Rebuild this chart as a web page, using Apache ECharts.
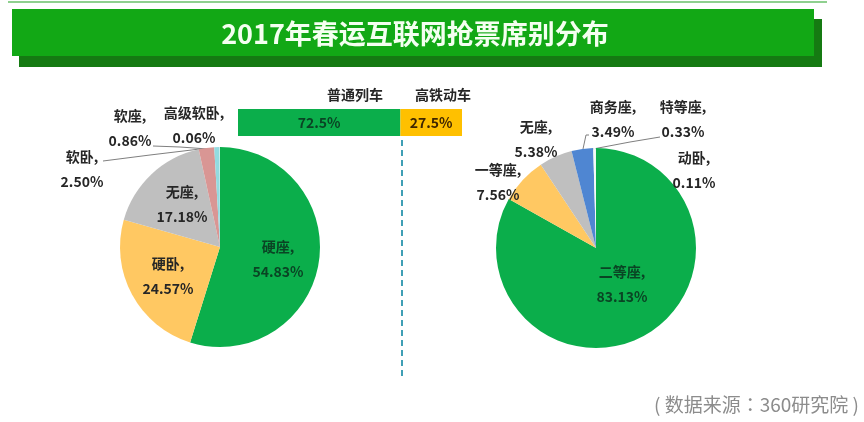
<!DOCTYPE html>
<html>
<head>
<meta charset="utf-8">
<style>
html, body { margin: 0; padding: 0; background: #fff; }
#main { width: 864px; height: 422px; }
</style>
<script src="https://cdn.jsdelivr.net/npm/echarts@6/dist/echarts.min.js"></script>
</head>
<body>
<div id="main"></div>
<script>
var titleText = '2017年春运互联网抢票席别分布';
var sourceText = '( 数据来源：360研究院 )';

// 左饼：普通列车
var leftNames = ['硬座', '硬卧', '无座', '软卧', '软座', '高级软卧'];
var leftValues = [54.83, 24.57, 17.18, 2.50, 0.86, 0.06];
// 右饼：高铁动车
var rightNames = ['二等座', '一等座', '无座', '商务座', '特等座', '动卧'];
var rightValues = [83.13, 7.56, 5.38, 3.49, 0.33, 0.11];
// 顶部条形
var barNames = ['普通列车', '高铁动车'];
var barValues = [72.5, 27.5];

var font = '"Noto Sans CJK SC", sans-serif';
var leftColors = ['#0bae4b', '#ffc862', '#bfbfbf', '#d99694', '#93dbe0', '#dff4f2'];
var rightColors = ['#0bae4b', '#ffc862', '#bfbfbf', '#4f86d2', '#f4fbf6', '#e6f6ee'];

// 标签中心的像素坐标
var leftLabelPos = {
    '硬座': [278, 259], '硬卧': [168, 276], '无座': [182, 204],
    '软卧': [82, 169], '软座': [130, 128], '高级软卧': [194, 125]
};
var rightLabelPos = {
    '二等座': [622, 284], '一等座': [498, 182], '无座': [536, 139],
    '商务座': [613, 119], '特等座': [683, 119], '动卧': [694, 170]
};
// 引导线的折点
var leaderPoints = {
    '软卧': [[103, 161], [150, 155], [200, 149]],
    '软座': [[153, 146], [180, 147], [208, 149]],
    '商务座': [[589, 135], [586, 135], [583, 149]],
    '特等座': [[660, 137], [630, 142], [593, 149]]
};

function pieData(names, values, colors) {
    return names.map(function (n, i) {
        return {
            name: n,
            value: values[i],
            itemStyle: { color: colors[i] },
            label: { color: colors[i] === '#0bae4b' ? '#0a4424' : '#262626' },
            labelLine: { show: !!leaderPoints[n] }
        };
    });
}

function pieSeries(names, values, colors, center, pos) {
    return {
        type: 'pie',
        center: center,
        radius: [0, 100],
        startAngle: 90,
        clockwise: true,
        avoidLabelOverlap: false,
        silent: true,
        animation: false,
        data: pieData(names, values, colors),
        label: {
            show: true,
            position: 'outside',
            formatter: function (p) { return p.name + ',\n' + p.value.toFixed(2) + '%'; },
            fontFamily: font,
            fontSize: 14,
            fontWeight: 'bold',
            lineHeight: 25
        },
        labelLine: {
            show: false,
            lineStyle: { color: '#7f7f7f', width: 1 }
        },
        labelLayout: function (p) {
            var key = p.text.split(',')[0];
            var xy = pos[key];
            var layout = { x: xy[0], y: xy[1], align: 'center', verticalAlign: 'middle' };
            if (leaderPoints[key]) {
                layout.labelLinePoints = leaderPoints[key];
            }
            return layout;
        }
    };
}

var myChart = echarts.init(document.getElementById('main'));

var option = {
    backgroundColor: '#fff',
    animation: false,
    grid: { left: 238, top: 109, width: 224, height: 27 },
    xAxis: { type: 'value', min: 0, max: 100, show: false },
    yAxis: { type: 'category', data: ['占比'], show: false },
    series: [
        {
            name: barNames[0], type: 'bar', stack: 'a', barWidth: 27, silent: true,
            data: [barValues[0]], itemStyle: { color: '#0bae4b' },
            label: { show: true, position: 'inside', formatter: '{c}%', fontFamily: font, fontSize: 14, fontWeight: 'bold', color: '#0a4424' }
        },
        {
            name: barNames[1], type: 'bar', stack: 'a', barWidth: 27, silent: true,
            data: [barValues[1]], itemStyle: { color: '#ffc000' },
            label: { show: true, position: 'inside', formatter: '{c}%', fontFamily: font, fontSize: 14, fontWeight: 'bold', color: '#3f2600' }
        },
        pieSeries(leftNames, leftValues, leftColors, [220, 247], leftLabelPos),
        pieSeries(rightNames, rightValues, rightColors, [596, 248], rightLabelPos)
    ],
    graphic: [
        { type: 'rect', z: 1, shape: { x: 19, y: 19, width: 803, height: 48 }, style: { fill: '#157a12' } },
        { type: 'rect', z: 2, shape: { x: 12, y: 9, width: 802, height: 47 }, style: { fill: '#12a815' } },
        { type: 'line', z: 1, shape: { x1: 8, y1: 2, x2: 827, y2: 2 }, style: { stroke: '#8fd08f', lineWidth: 2 } },
        { type: 'text', z: 3, style: { x: 415, y: 34, text: titleText, align: 'center', verticalAlign: 'middle', fontFamily: font, fontSize: 27, fontWeight: 'bold', fill: '#f4fff0' } },
        { type: 'text', z: 3, style: { x: 355, y: 95, text: barNames[0], align: 'center', verticalAlign: 'middle', fontFamily: font, fontSize: 14, fontWeight: 'bold', fill: '#262626' } },
        { type: 'text', z: 3, style: { x: 443, y: 95, text: barNames[1], align: 'center', verticalAlign: 'middle', fontFamily: font, fontSize: 14, fontWeight: 'bold', fill: '#262626' } },
        { type: 'line', z: 1, shape: { x1: 402, y1: 140, x2: 402, y2: 378 }, style: { stroke: '#3f9fb5', lineWidth: 2, lineDash: [6, 4] } },
        { type: 'text', z: 3, style: { x: 859, y: 405, text: sourceText, align: 'right', verticalAlign: 'middle', fontFamily: '"Noto Sans CJK TC", sans-serif', fontSize: 19, fill: '#8c8c8c' } }
    ]
};

myChart.setOption(option);
</script>
</body>
</html>
